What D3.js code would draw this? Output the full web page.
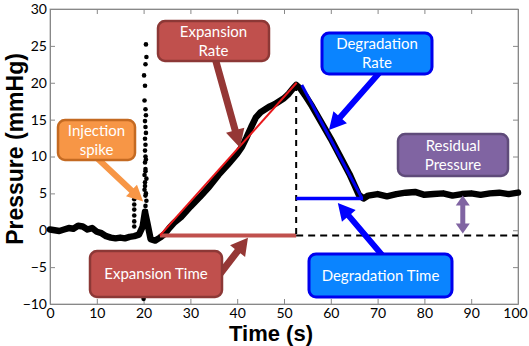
<!DOCTYPE html>
<html>
<head>
<meta charset="utf-8">
<script src="https://cdn.jsdelivr.net/npm/d3@7"></script>
<style>
  body { margin: 0; background: #fff; }
  .tick text { font-family: Lato, "Open Sans", sans-serif; font-size: 14px; fill: #000; }
  .box-text { font-family: Lato, "Open Sans", sans-serif; font-size: 15px; fill: #fff; }
  .axis-title { font-family: "Liberation Sans", Arial, sans-serif; font-weight: bold; fill: #000; }
</style>
</head>
<body>
<div id="chart"></div>
<script>
// pressure trace (time in s, pressure in mmHg)
const traceTime = [0, 1, 2, 3, 4, 5, 6, 7, 8, 9, 10, 11, 12, 13, 14, 15, 16, 17, 18, 19, 19.8, 20.3, 20.8, 21.5,
    22.5, 23.5, 24.5, 25.5, 26.5, 28, 30, 32, 34, 36, 38, 40, 41, 42, 43, 44, 45, 46, 47, 48, 49, 50, 51, 52, 52.6,
    53.5, 54.5, 56, 58, 60, 62, 64, 65, 66, 67, 68, 70, 72, 74, 76, 78, 80, 82, 84, 86, 88, 90, 92, 94, 96, 98, 100];
const tracePressure = [0.1, 0.0, -0.1, 0.1, 0.3, 0.2, 0.6, 0.5, 0.1, 0.3, -0.2, -0.4, -0.8, -1.0, -1.1, -1.0, -1.1, -0.9, -0.8, -0.6, 0.5, 2.5, 1.0, -1.2,
    -1.4, -1.0, -0.5, 0.3, 1.0, 1.8, 3.2, 4.5, 5.9, 7.5, 8.9, 10.4, 11.3, 12.6, 14.0, 15.3, 16.0, 16.4, 16.8, 17.1, 17.5, 17.9, 18.5, 19.3, 19.7,
    19.2, 18.3, 16.8, 14.6, 12.4, 10.0, 7.6, 6.2, 4.8, 4.3, 4.7, 4.9, 4.6, 4.9, 5.1, 5.2, 4.8, 4.9, 5.0, 4.7, 4.9, 5.0, 4.8, 5.0, 5.1, 4.9, 5.1];

// scattered samples of the injection spike
const spikeTime = [18, 18, 18, 18, 18, 18, 18.1,
    20.4, 20.5, 20.3, 20.5, 20.4, 20.6, 20.4, 20.5, 20.3, 20.6, 20.4, 20.5,
    20.2, 20.3, 20.2, 20.4, 20.3, 20.4, 20.3, 20.4, 20.3, 20.5, 20.4, 20.3, 20.5, 20.4, 20.2, 20.3, 20.1, 20.4, 20.6, 20.5, 20.0];
const spikePressure = [0.5, 1.2, 2.0, 2.8, 3.5, 4.2, 4.6,
    0.5, 1.2, 1.9, 2.6, 3.3, 4.0, 4.7, 5.0, 6.0, 7.0, 8.0, 9.6,
    5.5, 6.5, 7.5, 8.3, 9.2, 10.0, 10.8, 11.6, 12.4, 13.2, 14.0, 14.8, 15.6, 16.4, 17.6, 19.6, 21.0, 22.5, 23.5, 25.2, -9.3];

// fitted lines and markers
const expansionFit = [[23.5, -0.7], [52.7, 20.0]];
const degradationFit = [[53.8, 19.7], [66.6, 4.4]];
const degradationTime = [[52.6, 4.3], [66.9, 4.3]];
const expansionTime = [[23.5, -0.7], [52.6, -0.7]];
const peakDrop = [[52.6, 19.7], [52.6, -0.7]];
const baseline = [[52.6, -0.7], [100, -0.7]];
const residual = [[88.2, 5.0], [88.2, -0.7]];

// ticks
const xTicks = [0, 10, 20, 30, 40, 50, 60, 70, 80, 90, 100];
const yTicks = [-10, -5, 0, 5, 10, 15, 20, 25, 30];

const W = 529, H = 346;
const margin = { top: 9, right: 11, bottom: 42, left: 50 };
const width = W - margin.left - margin.right;
const height = H - margin.top - margin.bottom;

const svg = d3.select("#chart").append("svg")
    .attr("width", W)
    .attr("height", H);

const g = svg.append("g")
    .attr("transform", "translate(" + margin.left + "," + margin.top + ")");

const x = d3.scaleLinear().domain([0, 100]).range([0, width]);
const y = d3.scaleLinear().domain([-10, 30]).range([height, 0]);

// frame and axes
g.append("rect")
    .attr("width", width).attr("height", height)
    .attr("fill", "none").attr("stroke", "#aaa").attr("stroke-width", 1);

const xAxisG = g.append("g").attr("transform", "translate(0," + height + ")")
    .call(d3.axisBottom(x).tickValues(xTicks).tickSizeInner(-5).tickSizeOuter(0).tickPadding(4));
// keep "100" inside the window
xAxisG.selectAll(".tick text").filter(d => d === 100).attr("dx", "-3");
g.append("g")
    .call(d3.axisLeft(y).tickValues(yTicks).tickSizeInner(-5).tickSizeOuter(0).tickPadding(3));
g.append("g").call(d3.axisTop(x).tickValues(xTicks).tickSizeInner(-5).tickSizeOuter(0).tickFormat(""));
g.append("g").attr("transform", "translate(" + width + ",0)")
    .call(d3.axisRight(y).tickValues(yTicks).tickSizeInner(-5).tickSizeOuter(0).tickFormat(""));
g.selectAll(".domain").attr("stroke", "#888");
g.selectAll(".tick line").attr("stroke", "#888");

// axis titles
svg.append("text").attr("class", "axis-title")
    .attr("transform", "translate(23,149) rotate(-90)")
    .attr("text-anchor", "middle")
    .style("font-size", "23px")
    .text("Pressure (mmHg)");
svg.append("text").attr("class", "axis-title")
    .attr("x", 271).attr("y", 341)
    .attr("text-anchor", "middle")
    .style("font-size", "22px")
    .text("Time (s)");

const lineGen = d3.line().x(d => x(d[0])).y(d => y(d[1]));

// trace
const trace = traceTime.map((t, i) => [t, tracePressure[i]]);
g.append("path").datum(trace)
    .attr("d", lineGen)
    .attr("fill", "none")
    .attr("stroke", "#000")
    .attr("stroke-width", 6.5)
    .attr("stroke-linejoin", "round")
    .attr("stroke-linecap", "round");

g.selectAll(".spike").data(spikeTime.map((t, i) => [t, spikePressure[i]]))
    .enter().append("circle")
    .attr("class", "spike")
    .attr("cx", d => x(d[0]))
    .attr("cy", d => y(d[1]))
    .attr("r", 2.3)
    .attr("fill", "#000");

function seg(data, color, w, dash) {
    g.append("path").datum(data)
        .attr("d", lineGen)
        .attr("fill", "none")
        .attr("stroke", color)
        .attr("stroke-width", w)
        .attr("stroke-dasharray", dash || null);
}
seg(expansionTime, "#c0504d", 4);
seg(peakDrop, "#000", 2, "6,5");
seg(baseline, "#000", 2, "7,5");
seg(expansionFit, "#e8191c", 2);
seg(degradationFit, "#0000ee", 3);
seg(degradationTime, "#0000ff", 3.5);

// block arrow from pixel point to data point
function arrow(x0, y0, tip, color, shaft, head, headLen) {
    const x1 = x(tip[0]) + margin.left, y1 = y(tip[1]) + margin.top;
    const ang = Math.atan2(y1 - y0, x1 - x0);
    const len = Math.hypot(x1 - x0, y1 - y0);
    const pts = [[0, -shaft / 2], [len - headLen, -shaft / 2], [len - headLen, -head / 2], [len, 0],
        [len - headLen, head / 2], [len - headLen, shaft / 2], [0, shaft / 2]];
    svg.append("polygon")
        .attr("points", pts.map(p => p.join(",")).join(" "))
        .attr("transform", "translate(" + x0 + "," + y0 + ") rotate(" + (ang * 180 / Math.PI) + ")")
        .attr("fill", color);
}

// residual double arrow
(function () {
    const ax = x(residual[0][0]) + margin.left;
    const yt = y(residual[0][1]) + margin.top + 2, yb = y(residual[1][1]) + margin.top - 2;
    svg.append("rect").attr("x", ax - 2.5).attr("y", yt + 8).attr("width", 5).attr("height", yb - yt - 16)
        .attr("fill", "#8064a2");
    svg.append("polygon").attr("points", [[ax - 7, yt + 10], [ax + 7, yt + 10], [ax, yt]].map(p => p.join(",")).join(" "))
        .attr("fill", "#8064a2");
    svg.append("polygon").attr("points", [[ax - 7, yb - 10], [ax + 7, yb - 10], [ax, yb]].map(p => p.join(",")).join(" "))
        .attr("fill", "#8064a2");
})();

// annotation boxes
function box(x0, y0, w, h, fill, stroke, sw, lines) {
    svg.append("rect")
        .attr("x", x0).attr("y", y0).attr("width", w).attr("height", h)
        .attr("rx", 7).attr("ry", 7)
        .attr("fill", fill).attr("stroke", stroke).attr("stroke-width", sw);
    const cy = y0 + h / 2;
    lines.forEach((t, i) => {
        svg.append("text").attr("class", "box-text")
            .attr("x", x0 + w / 2)
            .attr("y", cy + (i - (lines.length - 1) / 2) * 19)
            .attr("dy", "0.35em")
            .attr("text-anchor", "middle")
            .text(t);
    });
}

arrow(97, 158, [19.9, 3.9], "#f79646", 6, 16, 16);
box(58, 120, 77, 40, "#f79646", "#c46a22", 2.5, ["Injection", "spike"]);

arrow(215, 58, [40.6, 11.2], "#953735", 7, 19, 18);
box(158, 21, 111, 40, "#c0504d", "#8c3836", 2.5, ["Expansion", "Rate"]);

arrow(380, 72, [59.6, 13.6], "#0000ff", 6, 18, 17);
box(322, 33, 110, 41, "#0a84ff", "#0000ee", 3, ["Degradation", "Rate"]);

box(398, 134, 110, 42, "#8064a2", "#5f4b7a", 2.5, ["Residual", "Pressure"]);

arrow(213, 283, [42.3, -1.0], "#953735", 7, 19, 17);
box(90, 251, 132, 46, "#c0504d", "#8c3836", 2.5, ["Expansion Time"]);

arrow(382, 255, [61.5, 3.7], "#0000ff", 6, 18, 17);
box(309, 254, 143, 43, "#0a84ff", "#0000ee", 3, ["Degradation Time"]);
</script>
</body>
</html>
